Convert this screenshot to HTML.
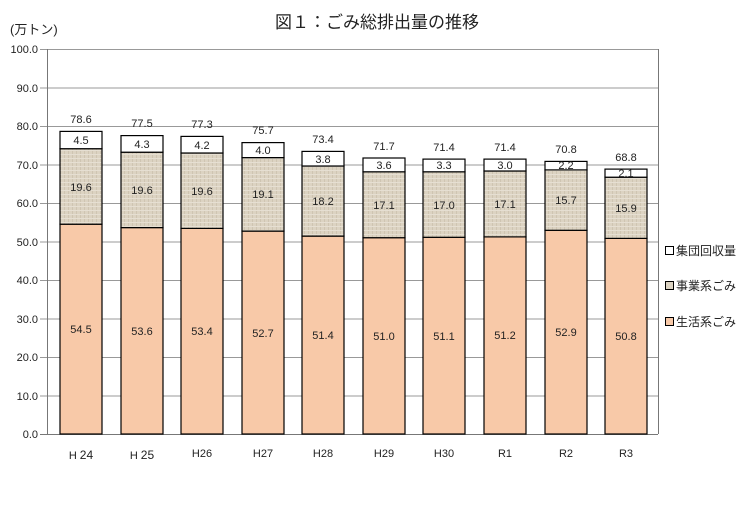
<!DOCTYPE html>
<html><head><meta charset="utf-8"><style>
body{margin:0;background:#fff;}
svg text{font-family:"Liberation Sans","Noto Sans CJK JP",sans-serif;fill:#222;}
</style></head><body>
<svg width="754" height="503" viewBox="0 0 754 503" xmlns="http://www.w3.org/2000/svg">
<defs>
<pattern id="tex" width="4" height="4" patternUnits="userSpaceOnUse">
<rect width="4" height="4" fill="#dcd3c2"/>
<rect x="0" y="0" width="1" height="4" fill="#cfc5b2"/>
<rect x="0" y="2" width="4" height="1" fill="#e6dfd2"/>
</pattern>
</defs>
<text x="377" y="28" font-size="17" text-anchor="middle">図１：ごみ総排出量の推移</text>
<text x="10" y="34" font-size="13">(万トン)</text>
<g stroke="#999" stroke-width="1">
<line x1="40" y1="49.5" x2="658" y2="49.5"/><line x1="40" y1="88" x2="658" y2="88"/>
<line x1="40" y1="126.5" x2="658" y2="126.5"/><line x1="40" y1="165" x2="658" y2="165"/>
<line x1="40" y1="203.5" x2="658" y2="203.5"/><line x1="40" y1="242" x2="658" y2="242"/>
<line x1="40" y1="280.5" x2="658" y2="280.5"/><line x1="40" y1="319" x2="658" y2="319"/>
<line x1="40" y1="357.5" x2="658" y2="357.5"/><line x1="40" y1="396" x2="658" y2="396"/>
</g>
<line x1="47.5" y1="49" x2="47.5" y2="434" stroke="#777"/>
<line x1="658.5" y1="49" x2="658.5" y2="434" stroke="#777"/>
<line x1="40" y1="434.5" x2="658" y2="434.5" stroke="#777"/>
<g font-size="11" text-anchor="end">
<text x="38" y="53">100.0</text><text x="38" y="92">90.0</text><text x="38" y="130">80.0</text>
<text x="38" y="169">70.0</text><text x="38" y="207">60.0</text><text x="38" y="246">50.0</text>
<text x="38" y="284">40.0</text><text x="38" y="323">30.0</text><text x="38" y="361">20.0</text>
<text x="38" y="400">10.0</text><text x="38" y="438">0.0</text>
</g>
<g stroke="#000" stroke-width="1.2">
<rect x="60" y="224.2" width="42" height="209.8" fill="#f8c9a8"/><rect x="60" y="148.7" width="42" height="75.5" fill="url(#tex)"/><rect x="60" y="131.4" width="42" height="17.3" fill="#fff"/>
<rect x="121" y="227.6" width="42" height="206.4" fill="#f8c9a8"/><rect x="121" y="152.2" width="42" height="75.4" fill="url(#tex)"/><rect x="121" y="135.6" width="42" height="16.6" fill="#fff"/>
<rect x="181" y="228.4" width="42" height="205.6" fill="#f8c9a8"/><rect x="181" y="153" width="42" height="75.4" fill="url(#tex)"/><rect x="181" y="136.4" width="42" height="16.6" fill="#fff"/>
<rect x="242" y="231.1" width="42" height="202.9" fill="#f8c9a8"/><rect x="242" y="157.6" width="42" height="73.5" fill="url(#tex)"/><rect x="242" y="142.6" width="42" height="15" fill="#fff"/>
<rect x="302" y="236.1" width="42" height="197.9" fill="#f8c9a8"/><rect x="302" y="166" width="42" height="70.1" fill="url(#tex)"/><rect x="302" y="151.4" width="42" height="14.6" fill="#fff"/>
<rect x="363" y="237.7" width="42" height="196.3" fill="#f8c9a8"/><rect x="363" y="171.8" width="42" height="65.9" fill="url(#tex)"/><rect x="363" y="158" width="42" height="13.8" fill="#fff"/>
<rect x="423" y="237.3" width="42" height="196.7" fill="#f8c9a8"/><rect x="423" y="171.8" width="42" height="65.5" fill="url(#tex)"/><rect x="423" y="159.1" width="42" height="12.7" fill="#fff"/>
<rect x="484" y="236.9" width="42" height="197.1" fill="#f8c9a8"/><rect x="484" y="171" width="42" height="65.9" fill="url(#tex)"/><rect x="484" y="159.1" width="42" height="11.9" fill="#fff"/>
<rect x="545" y="230.3" width="42" height="203.7" fill="#f8c9a8"/><rect x="545" y="169.9" width="42" height="60.4" fill="url(#tex)"/><rect x="545" y="161.4" width="42" height="8.5" fill="#fff"/>
<rect x="605" y="238.4" width="42" height="195.6" fill="#f8c9a8"/><rect x="605" y="177.2" width="42" height="61.2" fill="url(#tex)"/><rect x="605" y="169.1" width="42" height="8.1" fill="#fff"/>
</g>
<g font-size="11" text-anchor="middle">
<text x="81" y="333">54.5</text><text x="81" y="191">19.6</text><text x="81" y="144">4.5</text><text x="81" y="123">78.6</text>
<text x="142" y="335">53.6</text><text x="142" y="194">19.6</text><text x="142" y="148">4.3</text><text x="142" y="127">77.5</text>
<text x="202" y="335">53.4</text><text x="202" y="195">19.6</text><text x="202" y="149">4.2</text><text x="202" y="128">77.3</text>
<text x="263" y="337">52.7</text><text x="263" y="198">19.1</text><text x="263" y="154">4.0</text><text x="263" y="134">75.7</text>
<text x="323" y="339">51.4</text><text x="323" y="205">18.2</text><text x="323" y="163">3.8</text><text x="323" y="143">73.4</text>
<text x="384" y="340">51.0</text><text x="384" y="209">17.1</text><text x="384" y="169">3.6</text><text x="384" y="150">71.7</text>
<text x="444" y="340">51.1</text><text x="444" y="209">17.0</text><text x="444" y="169">3.3</text><text x="444" y="151">71.4</text>
<text x="505" y="339">51.2</text><text x="505" y="208">17.1</text><text x="505" y="169">3.0</text><text x="505" y="151">71.4</text>
<text x="566" y="336">52.9</text><text x="566" y="204">15.7</text><text x="566" y="169">2.2</text><text x="566" y="153">70.8</text>
<text x="626" y="340">50.8</text><text x="626" y="212">15.9</text><text x="626" y="177">2.1</text><text x="626" y="161">68.8</text>
</g>
<g font-size="11" text-anchor="middle">
<text x="81" y="459">H<tspan font-size="12" dx="3">24</tspan></text><text x="142" y="459">H<tspan font-size="12" dx="3">25</tspan></text>
<text x="202" y="457">H26</text><text x="263" y="457">H27</text><text x="323" y="457">H28</text>
<text x="384" y="457">H29</text><text x="444" y="457">H30</text><text x="505" y="457">R1</text>
<text x="566" y="457">R2</text><text x="626" y="457">R3</text>
</g>
<g stroke="#000" stroke-width="1">
<rect x="665.5" y="246.5" width="8" height="8" fill="#fff"/>
<rect x="665.5" y="281.5" width="8" height="8" fill="#dcd3c2"/>
<rect x="665.5" y="317.5" width="8" height="8" fill="#f8c9a8"/>
</g>
<g font-size="12">
<text x="676" y="255">集団回収量</text><text x="676" y="290">事業系ごみ</text><text x="676" y="326">生活系ごみ</text>
</g>
</svg>
</body></html>
